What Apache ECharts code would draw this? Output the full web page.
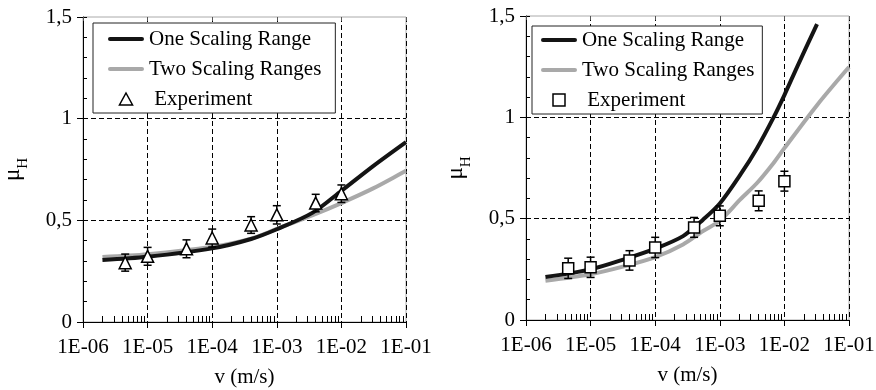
<!DOCTYPE html>
<html>
<head>
<meta charset="utf-8">
<script src="https://cdn.jsdelivr.net/npm/echarts@6/dist/echarts.min.js"></script>
<style>
  html, body { margin: 0; padding: 0; background: #fff; }
  #chart { width: 876px; height: 390px; }
</style>
</head>
<body>
<div id="chart"></div>
<script>
// Tick labels
const decadeLabels = ['1E-06', '1E-05', '1E-04', '1E-03', '1E-02', '1E-01'];
const muLabels = ['0', '0,5', '1', '1,5'];

// Measured sliding velocities (m/s)
const expVelocity = [4.5e-6, 1e-5, 4e-5, 1e-4, 4e-4, 1e-3, 4e-3, 1e-2];

// Left panel: experiment (triangles) with error half-widths
const leftExpMu  = [0.292, 0.323, 0.36, 0.413, 0.477, 0.527, 0.585, 0.631];
const leftExpErr = [0.042, 0.044, 0.044, 0.044, 0.041, 0.045, 0.043, 0.043];

// Right panel: experiment (squares) with error half-widths
const rightExpMu  = [0.255, 0.26, 0.294, 0.358, 0.457, 0.514, 0.588, 0.685];
const rightExpErr = [0.05, 0.05, 0.048, 0.05, 0.049, 0.049, 0.049, 0.049];

// Model curves [v, mu]
const leftOneRange = [[2e-6, 0.305], [1e-5, 0.321], [1e-4, 0.362], [4e-4, 0.408], [1e-3, 0.456],
  [3.6e-3, 0.538], [1e-2, 0.645], [3.1e-2, 0.767], [1e-1, 0.885]];
const leftTwoRanges = [[2e-6, 0.32], [1e-5, 0.333], [1e-4, 0.37], [4e-4, 0.41], [1e-3, 0.458],
  [3.6e-3, 0.526], [1e-2, 0.585], [3.1e-2, 0.657], [1e-1, 0.744]];
const rightOneRange = [[2e-6, 0.212], [1e-5, 0.25], [3.5e-5, 0.302], [1e-4, 0.352], [2.7e-4, 0.414],
  [5.5e-4, 0.495], [1e-3, 0.575], [2.08e-3, 0.717], [3.77e-3, 0.848], [6.8e-3, 1.0],
  [1e-2, 1.11], [1.57e-2, 1.248], [3.2e-2, 1.46]];
const rightTwoRanges = [[2e-6, 0.194], [1e-5, 0.226], [3.5e-5, 0.267], [1e-4, 0.31], [2.7e-4, 0.373],
  [5.5e-4, 0.439], [1e-3, 0.49], [2.08e-3, 0.595], [3.77e-3, 0.676], [6.8e-3, 0.775],
  [1e-2, 0.848], [3.2e-2, 1.06], [1e-1, 1.248]];

const FONT = 'Liberation Serif';
const INK = '#000';

// legend glyphs
const ICON_LINE = 'path://M2,0 L34,0 A2,2 0 0 1 34,4 L2,4 A2,2 0 0 1 2,0 Z';
const ICON_TRIANGLE = 'path://M6,0 L12,11 L0,11 Z';
const ICON_SQUARE = 'path://M0,0 L11,0 L11,11 L0,11 Z';

// minor log ticks 2..9 within each decade
const minorLogTicks = [];
for (let e = -6; e < -1; e++) {
  for (let k = 2; k <= 9; k++) minorLogTicks.push(k * Math.pow(10, e));
}

function decadeLabel(v) {
  const idx = Math.round(Math.log10(v)) + 6;
  return decadeLabels[idx] || '';
}
function muLabel(v) {
  const idx = Math.round(v / 0.5);
  return muLabels[idx] || '';
}

function xAxesFor(g) {
  return [
    {
      type: 'log', logBase: 10, gridIndex: g, min: 1e-6, max: 1e-1, position: 'bottom',
      axisLine: { show: true, lineStyle: { color: INK, width: 1 } },
      axisTick: { show: true, inside: false, length: 6, lineStyle: { color: INK, width: 1 } },
      axisLabel: { formatter: decadeLabel, fontFamily: FONT, fontSize: 21, color: INK, margin: 15 },
      splitLine: { show: true, showMinLine: false, showMaxLine: false,
        lineStyle: { type: [5, 3], color: INK, width: 1 } },
      name: 'v (m/s)', nameLocation: 'middle', nameGap: 45,
      nameTextStyle: { fontFamily: FONT, fontSize: 21, color: INK }
    },
    {
      type: 'log', logBase: 10, gridIndex: g, min: 1e-6, max: 1e-1, position: 'bottom',
      axisLine: { show: false }, axisLabel: { show: false }, splitLine: { show: false },
      axisTick: { show: true, inside: true, length: 6, customValues: minorLogTicks,
        lineStyle: { color: INK, width: 1 } }
    },
    {
      type: 'log', logBase: 10, gridIndex: g, min: 1e-6, max: 1e-1, position: 'top',
      axisLine: { show: false }, axisLabel: { show: false }, splitLine: { show: false },
      axisTick: { show: true, inside: true, length: 4, lineStyle: { color: '#555', width: 1 } }
    }
  ];
}

function yAxesFor(g) {
  return [
    {
      type: 'value', gridIndex: g, min: 0, max: 1.5, interval: 0.5, position: 'left',
      axisLine: { show: true, onZero: false, lineStyle: { color: INK, width: 1 } },
      axisTick: { show: true, inside: false, length: 6, lineStyle: { color: INK, width: 1 } },
      axisLabel: { formatter: muLabel, fontFamily: FONT, fontSize: 21, color: INK, margin: 11 },
      splitLine: { show: true, showMinLine: false, showMaxLine: false,
        lineStyle: { type: [5, 3], color: INK, width: 1 } },
      name: '{m|μ}{s|H}', nameLocation: 'middle', nameGap: 52, nameRotate: 90,
      nameTextStyle: {
        fontFamily: FONT, color: INK,
        rich: {
          m: { fontFamily: FONT, fontSize: 23, color: INK, lineHeight: 30, verticalAlign: 'top' },
          s: { fontFamily: FONT, fontSize: 15, color: INK, lineHeight: 16, verticalAlign: 'bottom' }
        }
      }
    },
    {
      type: 'value', gridIndex: g, min: 0, max: 1.5, interval: 0.1, position: 'left',
      axisLine: { show: false, onZero: false }, axisLabel: { show: false }, splitLine: { show: false },
      axisTick: { show: true, inside: true, length: 4, lineStyle: { color: INK, width: 1 } }
    }
  ];
}

function errorBarSeries(name, g, mu, err) {
  return {
    type: 'custom', name: name + ' error', xAxisIndex: g * 3, yAxisIndex: g * 2, z: 4,
    silent: true,
    data: expVelocity.map((v, i) => [v, mu[i], err[i]]),
    encode: { x: 0, y: 1 },
    renderItem: function (params, api) {
      const v = api.value(0), m = api.value(1), e = api.value(2);
      const top = api.coord([v, m + e]);
      const bot = api.coord([v, m - e]);
      const hw = 4;
      const st = { stroke: INK, lineWidth: 1.5 };
      return {
        type: 'group',
        children: [
          { type: 'line', shape: { x1: top[0], y1: top[1], x2: bot[0], y2: bot[1] }, style: st },
          { type: 'line', shape: { x1: top[0] - hw, y1: top[1], x2: top[0] + hw, y2: top[1] }, style: st },
          { type: 'line', shape: { x1: bot[0] - hw, y1: bot[1], x2: bot[0] + hw, y2: bot[1] }, style: st }
        ]
      };
    }
  };
}

function panelSeries(g, oneRange, twoRanges, mu, err, symbol, size) {
  return [
    {
      type: 'line', name: 'Two Scaling Ranges', xAxisIndex: g * 3, yAxisIndex: g * 2,
      data: twoRanges, showSymbol: false, symbol: 'none', smooth: 0.3, z: 2,
      lineStyle: { color: '#a9a9a9', width: 4 }, itemStyle: { color: '#a9a9a9' },
      emphasis: { disabled: true }, animation: false
    },
    {
      type: 'line', name: 'One Scaling Range', xAxisIndex: g * 3, yAxisIndex: g * 2,
      data: oneRange, showSymbol: false, symbol: 'none', smooth: 0.3, z: 3,
      lineStyle: { color: '#141414', width: 4 }, itemStyle: { color: '#141414' },
      emphasis: { disabled: true }, animation: false
    },
    errorBarSeries('Experiment', g, mu, err),
    {
      type: 'scatter', name: 'Experiment', xAxisIndex: g * 3, yAxisIndex: g * 2, z: 5,
      data: expVelocity.map((v, i) => [v, mu[i]]),
      symbol: symbol, symbolSize: size,
      itemStyle: { color: '#fff', borderColor: INK, borderWidth: 1.5, opacity: 1 },
      emphasis: { disabled: true }, animation: false
    }
  ];
}

function legendFor(left, top, padding, markerIcon) {
  return {
    orient: 'vertical', left: left, top: top, padding: padding,
    itemWidth: 36, itemHeight: 12, itemGap: 6,
    backgroundColor: '#fff', borderColor: '#222', borderWidth: 1, borderRadius: 0,
    selectedMode: false, z: 10,
    textStyle: { fontFamily: FONT, fontSize: 21, color: INK, lineHeight: 24 },
    formatter: name => (name === 'Experiment' ? ' Experiment' : name),
    data: [
      { name: 'One Scaling Range', icon: ICON_LINE, itemStyle: { color: '#141414', borderWidth: 0 } },
      { name: 'Two Scaling Ranges', icon: ICON_LINE, itemStyle: { color: '#a9a9a9', borderWidth: 0 } },
      { name: 'Experiment', icon: markerIcon,
        itemStyle: { color: '#fff', borderColor: INK, borderWidth: 1.5 } }
    ]
  };
}

const chart = echarts.init(document.getElementById('chart'), null, { renderer: 'canvas' });
chart.setOption({
  backgroundColor: '#fff',
  animation: false,
  grid: [
    { left: 83, top: 17, width: 323, height: 305, show: true, borderColor: '#aaa', borderWidth: 1,
      backgroundColor: 'transparent', containLabel: false, outerBoundsMode: 'none' },
    { left: 526, top: 16, width: 323, height: 304, show: true, borderColor: '#aaa', borderWidth: 1,
      backgroundColor: 'transparent', containLabel: false, outerBoundsMode: 'none' }
  ],
  legend: [
    legendFor(93, 23, [4, 14, 2, 15], ICON_TRIANGLE),
    legendFor(532, 26, [2, 8, 2, 9], ICON_SQUARE)
  ],
  xAxis: xAxesFor(0).concat(xAxesFor(1)),
  yAxis: yAxesFor(0).concat(yAxesFor(1)),
  series: panelSeries(0, leftOneRange, leftTwoRanges, leftExpMu, leftExpErr, 'triangle', 12)
    .concat(panelSeries(1, rightOneRange, rightTwoRanges, rightExpMu, rightExpErr, 'rect', 11))
});
</script>
</body>
</html>
